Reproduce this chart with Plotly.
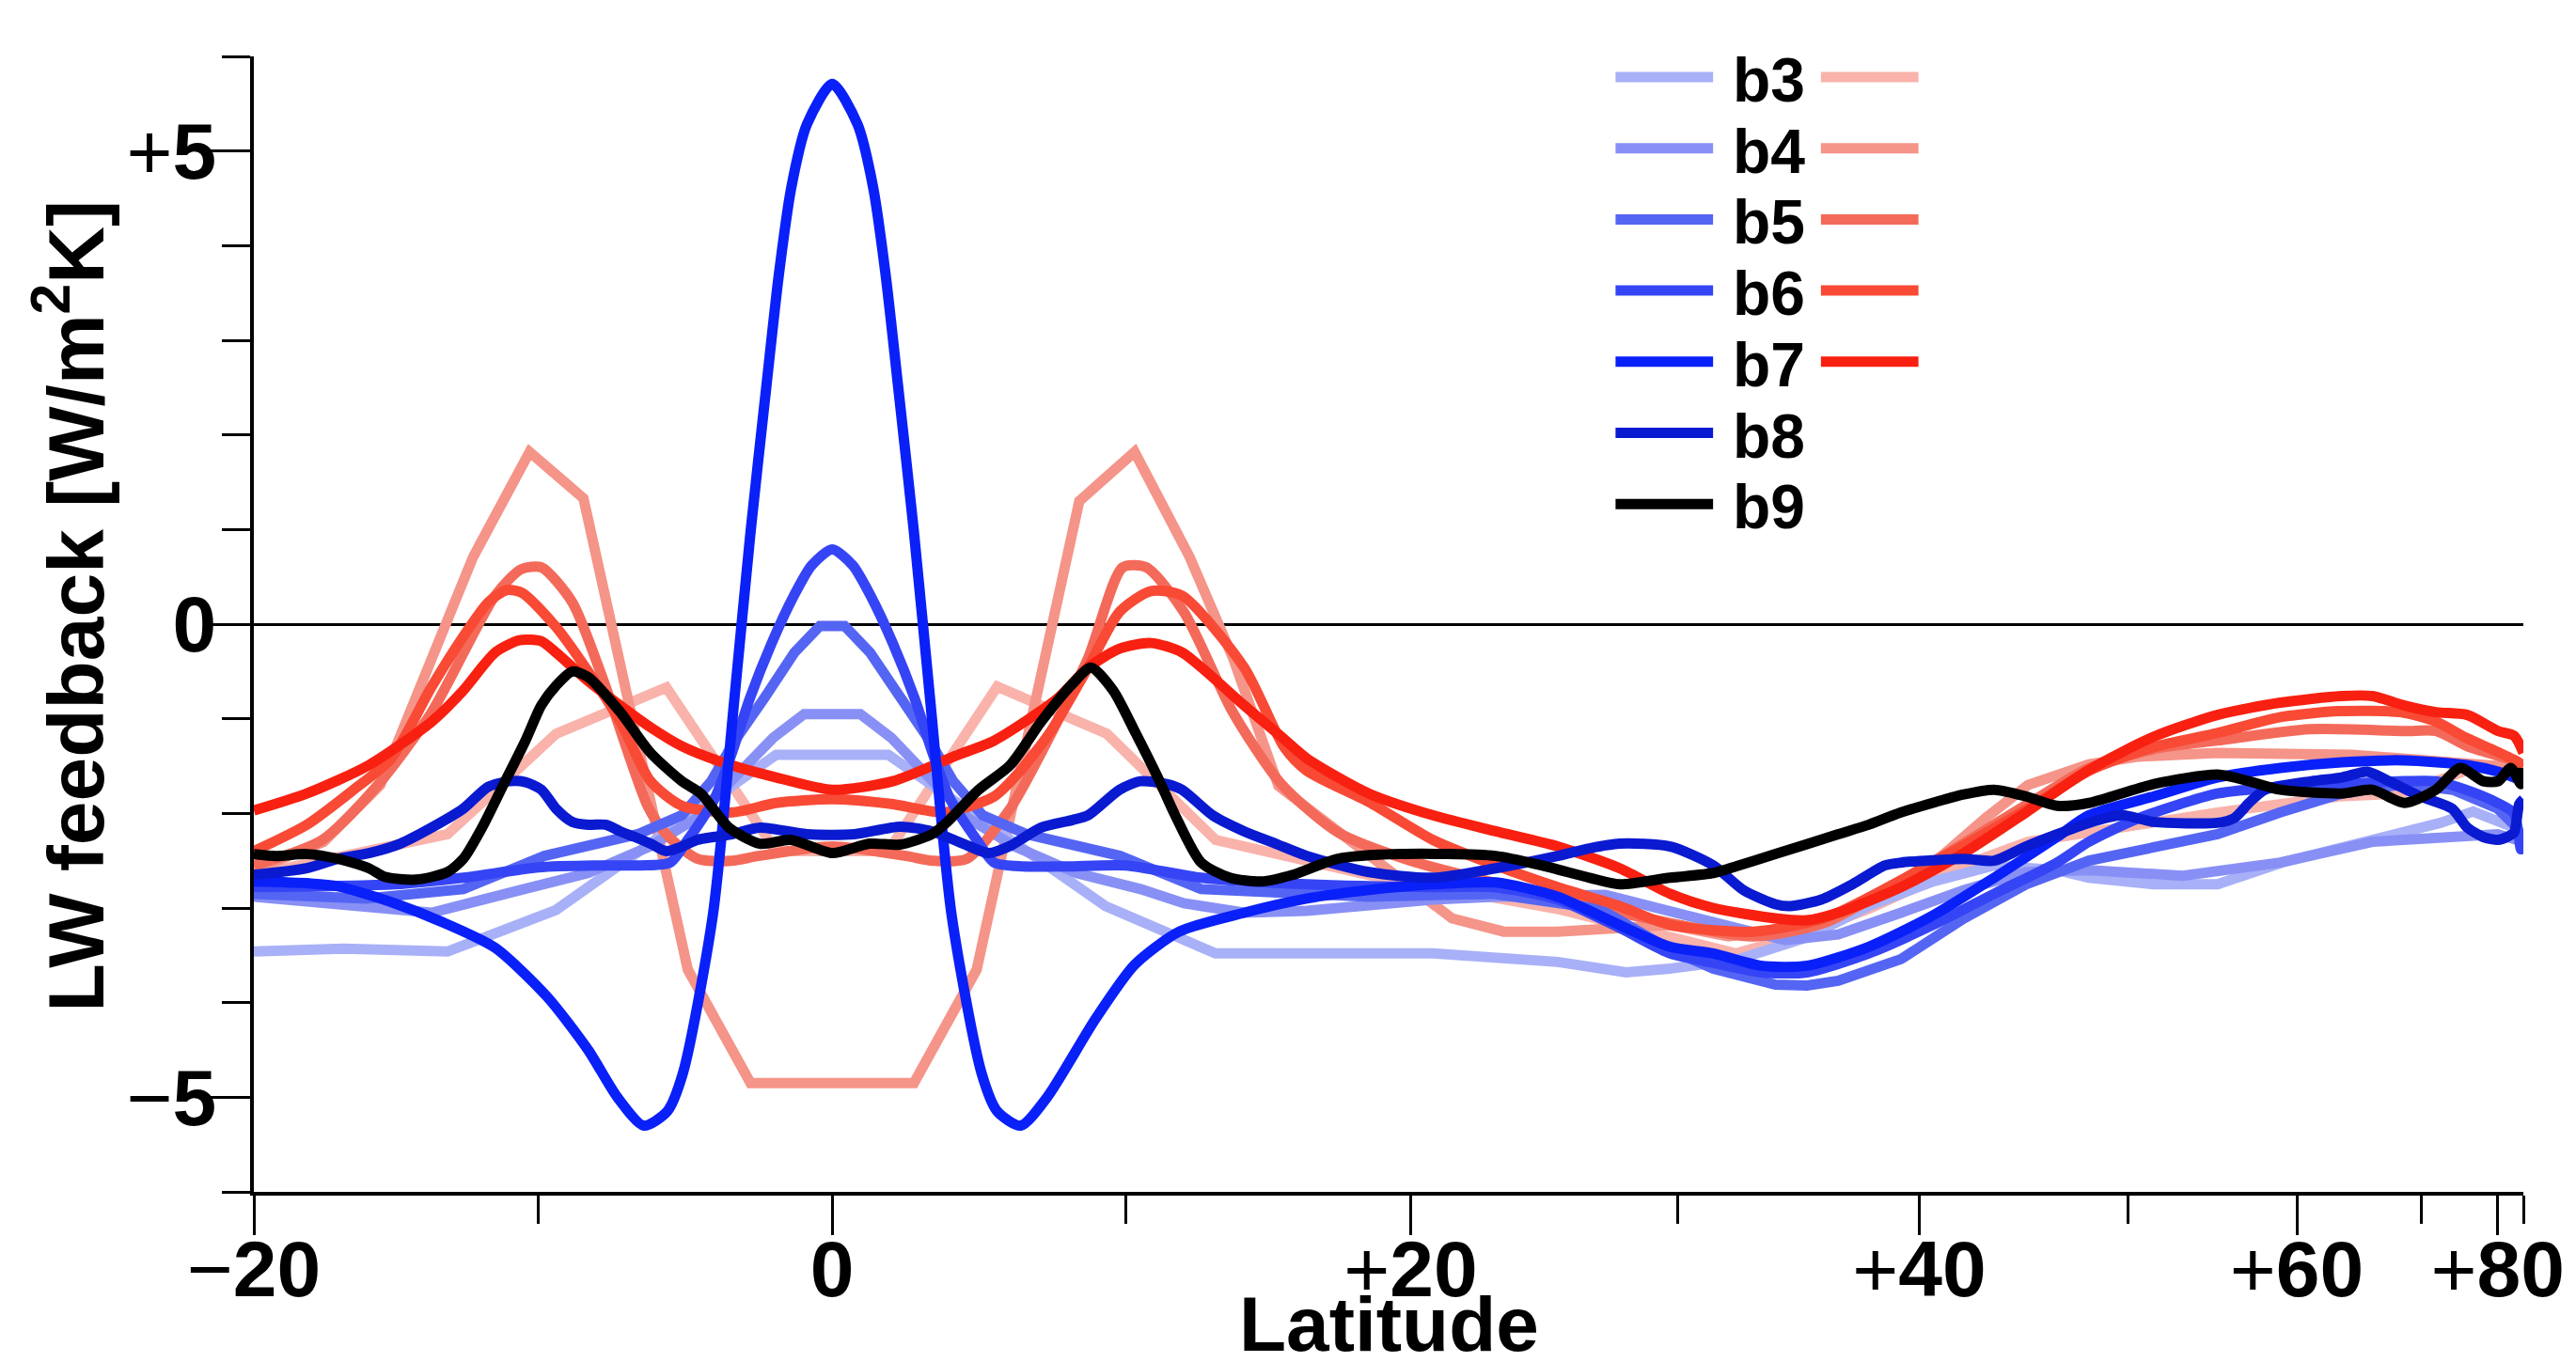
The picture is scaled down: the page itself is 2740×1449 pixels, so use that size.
import numpy as np
import plotly.graph_objects as go

# ---------------- data (latitude in degrees, LW feedback in W/m2K) ----------------
LAT_B3_BLUE = [-20, -16.8, -13.15, -9.4, -1.9, 1.9, 9.3, 13.1, 20.8, 25.4, 28, 29.7, 32.3, 35.2, 37.8, 40.6,
               43.4, 46.4, 48, 51.4, 55, 59, 65, 72, 76, 84, 90]
VAL_B3_BLUE = [-3.46, -3.43, -3.46, -3.02, -1.38, -1.38, -2.98, -3.48, -3.48, -3.57, -3.68, -3.64, -3.55, -3.31,
               -2.98, -2.72, -2.55, -2.6, -2.68, -2.75, -2.75, -2.52, -2.3, -2.1, -1.98, -2.15, -2.3]

LAT_B4_BLUE = [-20, -16, -13.7, -10.5, -8.3, -6.2, -4.6, -3.4, -2.0, -0.95, 0.95, 2.0, 3.4, 4.6, 6.2, 8.3, 10.5,
               12, 14.1, 16.3, 20.8, 23.1, 27.2, 29.7, 31.4, 34.3, 36.5, 39.2, 42, 44.9, 48, 53, 58.9, 65.6, 75,
               80, 90]
VAL_B4_BLUE = [-2.88, -3.0, -3.05, -2.8, -2.63, -2.35, -2.05, -1.65, -1.2, -0.95, -0.95, -1.2, -1.65, -2.05,
               -2.35, -2.63, -2.8, -2.95, -3.05, -3.03, -2.91, -2.88, -2.86, -3.05, -3.15, -3.34, -3.28, -3.05,
               -2.81, -2.62, -2.6, -2.66, -2.52, -2.3, -2.25, -2.22, -2.3]

LAT_B5_BLUE = [-20, -16, -12.6, -9.8, -6.6, -5.1, -4.1, -3.3, -2.3, -1.28, -0.42, 0.42, 1.28, 2.3, 3.3, 4.1,
               5.1, 6.6, 9.8, 12.6, 18.5, 23, 27, 29.7, 31.4, 33.9, 35.2, 36.5, 39.2, 42, 44.9, 48, 51.4, 55,
               58.9, 63.2, 68.4, 73.4, 80, 85, 90]
VAL_B5_BLUE = [-2.85, -2.9, -2.8, -2.45, -2.22, -2.02, -1.66, -1.23, -0.78, -0.30, -0.02, -0.02, -0.30, -0.78,
               -1.23, -1.66, -2.02, -2.22, -2.45, -2.8, -2.88, -2.85, -3.01, -3.44, -3.64, -3.81, -3.82, -3.77,
               -3.54, -3.11, -2.75, -2.5, -2.35, -2.22, -1.99, -1.79, -1.69, -1.75, -1.95, -2.15, -2.3]

LAT_B6_BLUE = [-20, -15, -12.6, -10, -8, -6.5, -5.5, -4.9, -4.0, -3.4, -2.8, -2.05, -1.3, -0.7, 0, 0.7, 1.3,
               2.05, 2.8, 3.4, 4.0, 4.9, 5.5, 6.5, 8, 10, 12.6, 16.3, 20.8, 23, 25.4, 27.75, 29.7, 31.4, 33.3,
               35.2, 37.8, 40.6, 43.4, 46.4, 48, 50.6, 55, 58.9, 63.2, 68.4, 71.5, 75, 80, 84, 87, 90]
VAL_B6_BLUE = [-2.78, -2.75, -2.68, -2.57, -2.55, -2.55, -2.52, -2.28, -1.85, -1.36, -0.79, -0.20, 0.30, 0.62,
               0.79, 0.62, 0.30, -0.20, -0.79, -1.36, -1.85, -2.28, -2.52, -2.56, -2.56, -2.55, -2.68, -2.75,
               -2.78, -2.78, -2.91, -3.21, -3.48, -3.58, -3.68, -3.68, -3.48, -3.18, -2.85, -2.52, -2.3, -2.05,
               -1.79, -1.72, -1.69, -1.66, -1.66, -1.75, -1.89, -2.0, -2.38, -2.3]

LAT_B7_BLUE = [-20, -18, -17, -15, -13.4, -11.5, -9.7, -8.3, -7.3, -6.4, -5.6, -5.06, -4.05, -3.32, -2.77,
               -2.23, -1.81, -1.39, -0.86, 0, 0.86, 1.39, 1.81, 2.23, 2.77, 3.32, 4.05, 5.06, 5.6, 6.4, 7.3,
               8.96, 10.3, 11.84, 14.1, 16.3, 18.5, 20.8, 23.1, 25.4, 27.75, 29.7, 31.4, 33.3, 35.2, 37.8, 40.6,
               43.4, 46.4, 48, 51.4, 55, 58.9, 63.2, 68.4, 75.2, 80.1, 90]
VAL_B7_BLUE = [-2.72, -2.74, -2.77, -2.95, -3.14, -3.42, -3.94, -4.5, -5.0, -5.30, -5.15, -4.74, -3.08, -0.80,
               0.97, 2.52, 3.69, 4.61, 5.28, 5.71, 5.28, 4.61, 3.69, 2.52, 0.97, -0.80, -3.08, -4.74, -5.15,
               -5.30, -5.0, -4.17, -3.6, -3.25, -3.05, -2.9, -2.81, -2.75, -2.73, -2.88, -3.18, -3.41, -3.48,
               -3.61, -3.61, -3.41, -3.08, -2.68, -2.25, -2.02, -1.82, -1.62, -1.52, -1.46, -1.44, -1.49, -1.56,
               -1.66]

LAT_B8_BLUE = [-20, -18.1, -17, -15.9, -14.8, -13.7, -12.6, -11.74, -11.0, -10.45, -9.9, -9.4, -8.84, -8.3,
               -7.7, -7.2, -6.7, -6.17, -5.63, -5.1, -4.57, -4.04, -3.4, -2.45, -0.86, 0.75, 2.3, 3.38, 4.44,
               5.3, 6.0, 7.1, 8.17, 8.7, 9.78, 10.5, 11.4, 11.94, 13.0, 14.1, 15.2, 16.3, 18.5, 20.8, 23.1,
               25.4, 26.6, 27.75, 29.7, 31.4, 32.6, 33.9, 34.5, 35.8, 37.1, 38.5, 39.2, 42, 43.4, 44.9, 48,
               49.7, 51.4, 55, 56, 56.9, 57.9, 61, 63.2, 65.2, 67, 69.9, 73.3, 75.2, 77.5, 80.1, 82, 84, 86, 90]
VAL_B8_BLUE = [-2.65, -2.58, -2.48, -2.42, -2.32, -2.15, -1.95, -1.72, -1.66, -1.67, -1.75, -1.95, -2.09,
               -2.12, -2.12, -2.19, -2.25, -2.32, -2.40, -2.35, -2.28, -2.25, -2.22, -2.15, -2.22, -2.22, -2.14,
               -2.19, -2.32, -2.42, -2.35, -2.15, -2.07, -2.02, -1.75, -1.66, -1.69, -1.75, -2.02, -2.19, -2.32,
               -2.45, -2.62, -2.68, -2.58, -2.45, -2.37, -2.32, -2.35, -2.55, -2.81, -2.96, -2.98, -2.91, -2.75,
               -2.55, -2.52, -2.48, -2.5, -2.35, -2.1, -2.02, -2.09, -2.10, -2.05, -1.89, -1.75, -1.66, -1.62,
               -1.56, -1.66, -1.82, -1.95, -2.15, -2.25, -2.28, -2.25, -2.2, -1.9, -1.85]

LAT_B9 = [-20, -19.2, -18.1, -17, -15.9, -15.35, -14.25, -13.15, -12.6, -11.95, -11.2, -10.45, -9.91, -9.4,
          -8.84, -8.3, -7.2, -6.17, -5.1, -4.46, -3.5, -2.45, -1.4, 0, 1.26, 2.3, 3.38, 3.9, 4.97, 6.04, 7.1,
          8.17, 8.8, 9.56, 10.3, 11.1, 11.7, 12.6, 13.6, 14.7, 15.8, 17.4, 19.6, 23.1, 24.8, 26.6, 27.75,
          29.7, 31.4, 32.3, 33.9, 36.5, 37.8, 39.2, 42, 43.4, 44.9, 46.4, 48, 51.4, 55, 56.9, 58.9, 63.2,
          65.6, 68.4, 71.5, 74.3, 77.5, 80.1, 83, 87, 90]
VAL_B9 = [-2.43, -2.45, -2.43, -2.48, -2.58, -2.67, -2.70, -2.62, -2.48, -2.15, -1.69, -1.23, -0.86, -0.65,
          -0.50, -0.56, -0.93, -1.36, -1.66, -1.79, -2.15, -2.32, -2.28, -2.42, -2.32, -2.33, -2.22, -2.09,
          -1.75, -1.49, -1.03, -0.63, -0.46, -0.70, -1.13, -1.62, -2.02, -2.52, -2.68, -2.72, -2.65, -2.48,
          -2.43, -2.45, -2.55, -2.68, -2.75, -2.68, -2.63, -2.56, -2.43, -2.22, -2.12, -1.99, -1.80, -1.75,
          -1.82, -1.92, -1.89, -1.69, -1.59, -1.66, -1.75, -1.79, -1.75, -1.89, -1.75, -1.52, -1.66, -1.66,
          -1.52, -1.69, -1.52]

LAT_B3_RED = [-20, -13.15, -9.4, -5.63, -1.9, 1.9, 5.6, 9.35, 13.1, 18.5, 25.4, 29.7, 32.3, 34.6, 37.8, 42,
              45, 50.6, 55, 63, 68, 75, 80, 90]
VAL_B3_RED = [-2.65, -2.22, -1.16, -0.67, -2.40, -2.40, -0.66, -1.16, -2.28, -2.65, -3.01, -3.31, -3.48, -3.31,
              -3.01, -2.55, -2.3, -2.12, -1.99, -1.82, -1.79, -1.55, -1.5, -1.55]

LAT_B4_RED = [-20, -17.5, -15.5, -12.26, -10.31, -8.46, -4.9, -2.77, 2.77, 4.9, 8.4, 10.3, 12.2, 13.7, 15.3,
              21.5, 23.4, 25.4, 29.7, 32, 35, 38, 41, 43, 45, 48, 50.6, 55, 64, 73, 80, 90]
VAL_B4_RED = [-2.60, -2.3, -1.7, 0.71, 1.82, 1.33, -3.65, -4.85, -4.85, -3.65, 1.30, 1.82, 0.71, -0.35, -1.71,
              -3.11, -3.25, -3.25, -3.18, -3.3, -3.2, -2.95, -2.45, -2.05, -1.7, -1.48, -1.4, -1.36, -1.38,
              -1.45, -1.5, -1.55]

LAT_B5_RED = [-20, -17.55, -15.56, -13.7, -11.5, -10.6, -9.9, -8.84, -7.77, -6.27, -5.63, -4.57, -3.4, -2.5,
              0, 2.5, 3.4, 4.57, 6.04, 7.1, 8.7, 9.89, 10.7, 12, 13.7, 15.4, 17.4, 20, 24, 29, 33, 36, 40, 45,
              48, 51.4, 55, 60.9, 68.4, 71.5, 75.2, 80, 85, 90]
VAL_B5_RED = [-2.55, -2.28, -1.69, -0.93, 0.30, 0.58, 0.60, 0.23, -0.60, -1.92, -2.22, -2.48, -2.50, -2.45,
              -2.35, -2.45, -2.50, -2.48, -1.95, -1.36, -0.36, 0.60, 0.60, 0.13, -0.93, -1.69, -2.2, -2.5,
              -2.8, -3.12, -3.3, -3.15, -2.6, -1.9, -1.52, -1.32, -1.23, -1.11, -1.13, -1.13, -1.29, -1.39,
              -1.45, -1.5]

LAT_B6_RED = [-20, -18.1, -16.44, -15.12, -13.7, -12.6, -11.74, -11.1, -10.56, -9.4, -8.3, -7.2, -6.17, -5.1,
              -3.4, -1.9, 0, 2, 3.8, 5.5, 6.36, 7.43, 8.7, 9.78, 10.86, 11.94, 14.1, 15.5, 16.3, 18.5, 20.8,
              23.1, 25.4, 27.75, 29.7, 33, 36, 40, 45, 48, 51.4, 55, 59, 63, 68, 71.5, 75, 80, 85, 90]
VAL_B6_RED = [-2.40, -2.12, -1.75, -1.42, -0.66, -0.13, 0.23, 0.36, 0.33, -0.03, -0.50, -1.03, -1.66, -1.92,
              -1.99, -1.89, -1.85, -1.90, -1.99, -1.82, -1.56, -1.13, -0.46, 0.13, 0.35, 0.30, -0.46, -1.3,
              -1.55, -1.88, -2.28, -2.55, -2.78, -2.98, -3.18, -3.25, -3.1, -2.6, -1.95, -1.55, -1.3, -1.15,
              -0.98, -0.92, -0.93, -1.03, -1.2, -1.35, -1.45, -1.5]

LAT_B7_RED = [-20, -18.1, -15.9, -13.7, -12.6, -11.5, -10.66, -9.91, -9.4, -8.3, -7.2, -6.17, -5.1, -3.72,
              -1.9, 0, 2.05, 4.2, 5.5, 7.64, 8.7, 9.78, 10.86, 11.94, 14.1, 15.4, 16.3, 18.5, 20.8, 23.1, 25.4,
              27.75, 29.7, 31.4, 33.9, 35.2, 36.5, 39.2, 42, 44.9, 48, 51.4, 55, 58.9, 63.2, 65.6, 68.4, 71.5,
              75.2, 80.1, 84, 90]
VAL_B7_RED = [-1.97, -1.79, -1.49, -1.03, -0.70, -0.30, -0.17, -0.18, -0.30, -0.60, -0.86, -1.09, -1.29, -1.46,
              -1.62, -1.75, -1.66, -1.39, -1.23, -0.79, -0.46, -0.26, -0.20, -0.30, -0.86, -1.19, -1.42, -1.79,
              -2.02, -2.19, -2.35, -2.58, -2.85, -3.0, -3.11, -3.13, -3.05, -2.78, -2.42, -1.99, -1.54, -1.19,
              -0.96, -0.83, -0.76, -0.76, -0.86, -0.93, -0.96, -1.13, -1.18, -1.36]

X_TICK_LAT = [-20, 0, 20, 40, 60, 80]
X_TICK_TEXT = ["\u2212<b>20</b>", "<b>0</b>", "+<b>20</b>", "+<b>40</b>", "+<b>60</b>", "+<b>80</b>"]
X_MINOR_LAT = [-10, 10, 30, 50, 70, 90]
Y_TICK_VALS = [-5, 0, 5]
Y_TICK_TEXT = ["\u2212<b>5</b>", "<b>0</b>", "+<b>5</b>"]
Y_MINOR_VALS = list(range(-6, 7))
LEGEND_LABELS = ["b3", "b4", "b5", "b6", "b7", "b8", "b9"]

# ---------------- styles ----------------
BLUES = {"b3": "#a8b0f8", "b4": "#8890f5", "b5": "#5565f3", "b6": "#3545f5", "b7": "#0a20f8", "b8": "#0a1ad0"}
REDS = {"b3": "#f9b3ab", "b4": "#f59488", "b5": "#f46a5a", "b6": "#f84a35", "b7": "#f82010"}
BLACK = "#000000"
FONT = "Liberation Sans, Arial, Helvetica, sans-serif"
W, H = 2740, 1449
ML, MR, MT, MB = 270, 50, 60, 181
LW = 11

def sinlat(lat):
    return np.sin(np.deg2rad(np.asarray(lat, dtype=float)))

fig = go.Figure()

def add(lat, val, color, smooth):
    fig.add_trace(go.Scatter(
        x=sinlat(lat), y=val, mode="lines", showlegend=False, hoverinfo="skip",
        line=dict(color=color, width=LW, shape="spline" if smooth else "linear",
                  smoothing=0.7 if smooth else None)))

series = [
    (LAT_B3_RED, VAL_B3_RED, REDS["b3"], False),
    (LAT_B4_RED, VAL_B4_RED, REDS["b4"], False),
    (LAT_B3_BLUE, VAL_B3_BLUE, BLUES["b3"], False),
    (LAT_B4_BLUE, VAL_B4_BLUE, BLUES["b4"], False),
    (LAT_B5_RED, VAL_B5_RED, REDS["b5"], True),
    (LAT_B5_BLUE, VAL_B5_BLUE, BLUES["b5"], False),
    (LAT_B6_RED, VAL_B6_RED, REDS["b6"], True),
    (LAT_B7_RED, VAL_B7_RED, REDS["b7"], True),
    (LAT_B6_BLUE, VAL_B6_BLUE, BLUES["b6"], True),
    (LAT_B7_BLUE, VAL_B7_BLUE, BLUES["b7"], True),
    (LAT_B8_BLUE, VAL_B8_BLUE, BLUES["b8"], True),
    (LAT_B9, VAL_B9, BLACK, True),
]
for s in series:
    add(*s)

pw, ph = W - ML - MR, H - MT - MB

def px(xp):
    return (xp - ML) / pw

def py(yp):
    return (H - MB - yp) / ph

# ---------------- custom double legend ----------------
shapes, annotations = [], []
row0, rowstep = 82, 75.7
for i, lab in enumerate(LEGEND_LABELS):
    yr = row0 + i * rowstep
    left_color = BLUES.get(lab, BLACK)
    shapes.append(dict(type="line", xref="paper", yref="paper", x0=px(1722), x1=px(1826), y0=py(yr), y1=py(yr),
                       line=dict(color=left_color, width=11)))
    if lab in REDS:
        shapes.append(dict(type="line", xref="paper", yref="paper", x0=px(1941), x1=px(2045), y0=py(yr),
                           y1=py(yr), line=dict(color=REDS[lab], width=11)))
    annotations.append(dict(text="<b>%s</b>" % lab, xref="paper", yref="paper", x=px(1845), y=py(yr + 3),
                            xanchor="left", yanchor="middle", showarrow=False,
                            font=dict(family=FONT, size=66, color="black")))

annotations.append(dict(text="<b>Latitude</b>", xref="paper", yref="paper", x=0.5, y=py(1408),
                        xanchor="center", yanchor="middle", showarrow=False,
                        font=dict(family=FONT, size=82, color="black")))
annotations.append(dict(text="<b>LW feedback [W/m<sup>2</sup>K]</b>", xref="paper", yref="paper", x=px(74),
                        y=py(645), xanchor="center", yanchor="middle", textangle=-90, showarrow=False,
                        font=dict(family=FONT, size=84, color="black")))

fig.update_layout(
    width=W, height=H, margin=dict(l=ML, r=MR, t=MT, b=MB, pad=0),
    paper_bgcolor="white", plot_bgcolor="white",
    shapes=shapes, annotations=annotations, showlegend=False,
    xaxis=dict(range=[float(sinlat(-20)), 1.0], tickmode="array", tickvals=sinlat(X_TICK_LAT),
               ticktext=X_TICK_TEXT, ticks="outside", ticklen=42, tickwidth=3, tickcolor="black",
               ticklabelstandoff=-36,
               showline=True, linewidth=4, linecolor="black", showgrid=False, zeroline=False,
               tickfont=dict(family=FONT, size=84, color="black"),
               minor=dict(tickmode="array", tickvals=sinlat(X_MINOR_LAT), ticks="outside", ticklen=30,
                          tickwidth=3, tickcolor="black", showgrid=False)),
    yaxis=dict(range=[-6, 6], tickmode="array", tickvals=Y_TICK_VALS, ticktext=Y_TICK_TEXT,
               ticks="outside", ticklen=42, tickwidth=3, tickcolor="black",
               ticklabelstandoff=-23,
               showline=True, linewidth=4, linecolor="black", showgrid=False,
               zeroline=True, zerolinecolor="black", zerolinewidth=2.5,
               tickfont=dict(family=FONT, size=84, color="black"),
               minor=dict(tickmode="array", tickvals=Y_MINOR_VALS, ticks="outside", ticklen=30,
                          tickwidth=3, tickcolor="black", showgrid=False)),
)

fig.write_html("out.html", config={"displayModeBar": False},
               post_script="document.body.style.margin='0px';")
